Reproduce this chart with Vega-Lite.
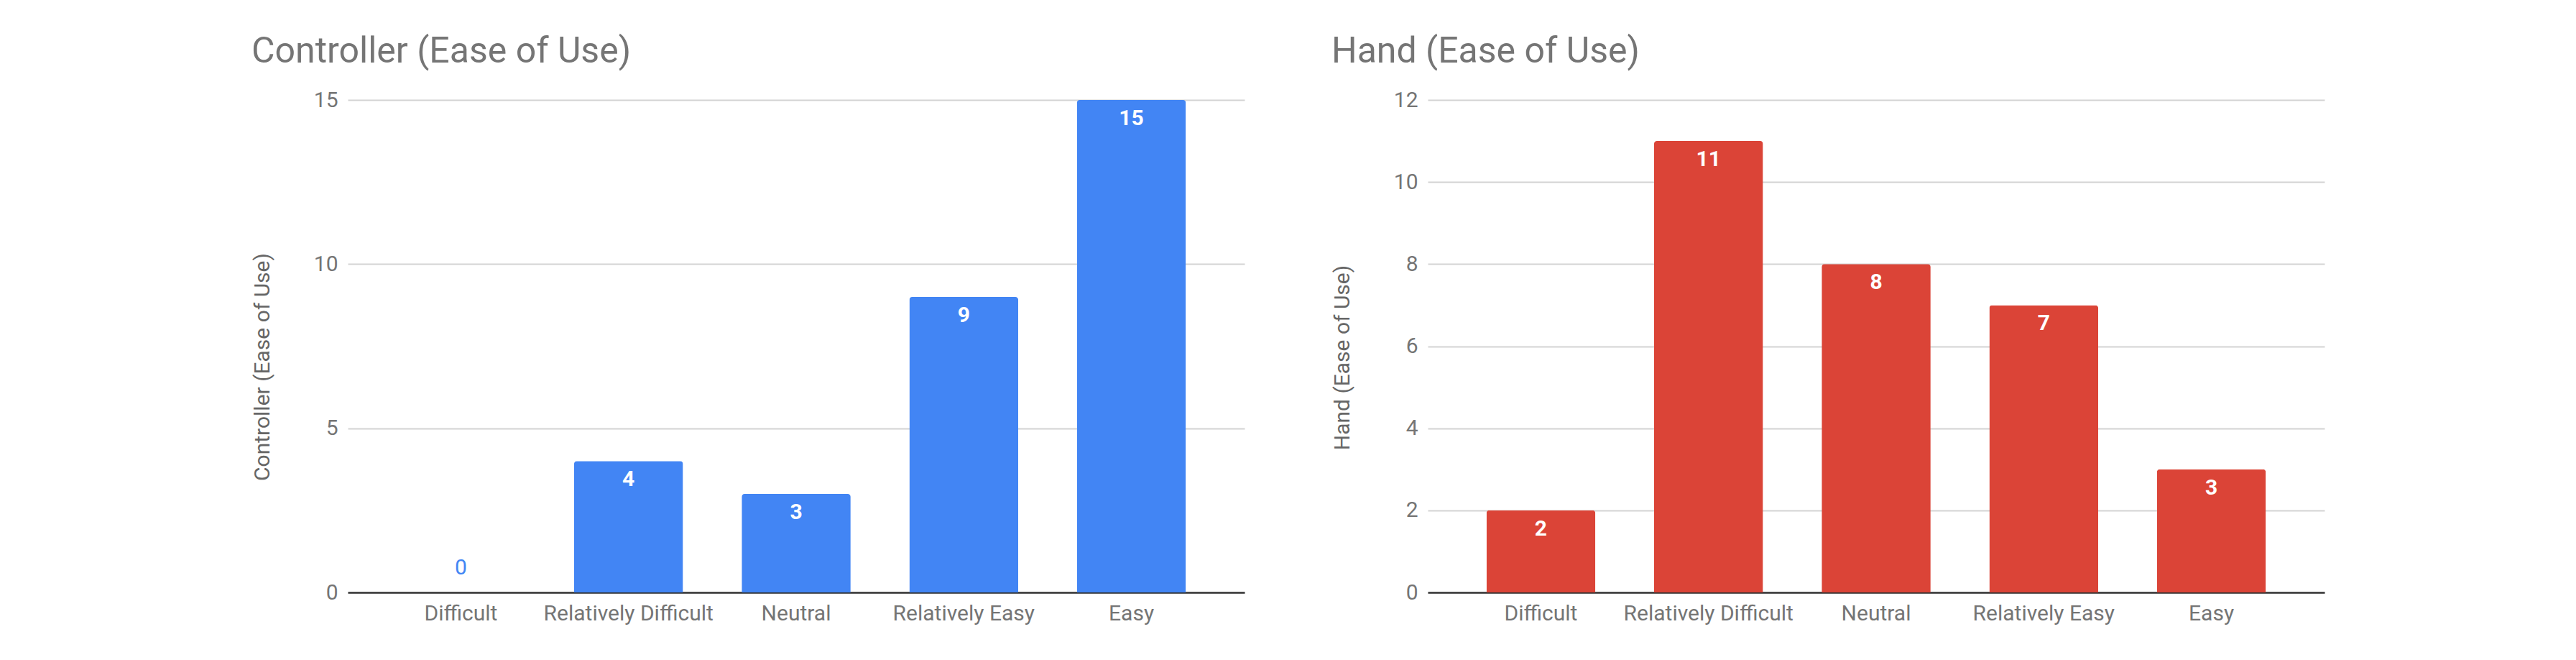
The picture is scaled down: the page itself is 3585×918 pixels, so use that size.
{
  "$schema": "https://vega.github.io/schema/vega-lite/v6.json",
  "padding": {"left": 350, "top": 47, "right": 5, "bottom": 5},
  "background": "white",
  "spacing": 121,
  "config": {
    "font": "Roboto",
    "view": {"stroke": null},
    "axis": {"labelFont": "Roboto", "titleFont": "Roboto", "labelColor": "#757575", "titleColor": "#666666"},
    "title": {"font": "Roboto", "fontSize": 50, "fontWeight": "normal", "color": "#757575", "anchor": "start", "frame": "bounds", "baseline": "alphabetic", "offset": 27}
  },
  "datasets": {
    "controller": [
      {"rating": "Difficult", "value": 0},
      {"rating": "Relatively Difficult", "value": 4},
      {"rating": "Neutral", "value": 3},
      {"rating": "Relatively Easy", "value": 9},
      {"rating": "Easy", "value": 15}
    ],
    "hand": [
      {"rating": "Difficult", "value": 2},
      {"rating": "Relatively Difficult", "value": 11},
      {"rating": "Neutral", "value": 8},
      {"rating": "Relatively Easy", "value": 7},
      {"rating": "Easy", "value": 3}
    ]
  },
  "hconcat": [
    {
      "title": "Controller (Ease of Use)",
      "width": 1248,
      "height": 685,
      "data": {"name": "controller"},
      "encoding": {
        "x": {
          "field": "rating", "type": "nominal", "sort": null, "title": null,
          "scale": {"paddingInner": 0.35, "paddingOuter": 0.35},
          "axis": {"labelAngle": 0, "labelFontSize": 30, "labelPadding": 14, "labelLimit": 0, "ticks": false, "domainColor": "#333333", "domainWidth": 2.5, "grid": false}
        },
        "y": {
          "field": "value", "type": "quantitative", "title": "Controller (Ease of Use)",
          "scale": {"domain": [0, 15], "nice": false},
          "axis": {"values": [0, 5, 10, 15], "labelFontSize": 30, "labelPadding": 14, "ticks": false, "domain": false, "gridColor": "#d3d3d3", "gridWidth": 2, "titleFontSize": 30, "titleFontWeight": "normal", "minExtent": 50, "maxExtent": 50, "titlePadding": 54, "titleY": 371}
        }
      },
      "layer": [
        {"mark": {"type": "bar", "color": "#4285f4", "cornerRadiusTopLeft": 4, "cornerRadiusTopRight": 4}},
        {
          "transform": [{"filter": "datum.value > 0"}],
          "mark": {"type": "text", "color": "white", "fontSize": 30, "fontWeight": "bold", "baseline": "alphabetic", "dy": 35},
          "encoding": {"text": {"field": "value", "type": "quantitative"}}
        },
        {
          "transform": [{"filter": "datum.value == 0"}],
          "mark": {"type": "text", "color": "#4285f4", "fontSize": 30, "baseline": "alphabetic", "dy": -25},
          "encoding": {"text": {"field": "value", "type": "quantitative"}}
        }
      ]
    },
    {
      "title": "Hand (Ease of Use)",
      "width": 1248,
      "height": 685,
      "data": {"name": "hand"},
      "encoding": {
        "x": {
          "field": "rating", "type": "nominal", "sort": null, "title": null,
          "scale": {"paddingInner": 0.35, "paddingOuter": 0.35},
          "axis": {"labelAngle": 0, "labelFontSize": 30, "labelPadding": 14, "labelLimit": 0, "ticks": false, "domainColor": "#333333", "domainWidth": 2.5, "grid": false}
        },
        "y": {
          "field": "value", "type": "quantitative", "title": "Hand (Ease of Use)",
          "scale": {"domain": [0, 12], "nice": false},
          "axis": {"values": [0, 2, 4, 6, 8, 10, 12], "labelFontSize": 30, "labelPadding": 14, "ticks": false, "domain": false, "gridColor": "#d3d3d3", "gridWidth": 2, "titleFontSize": 30, "titleFontWeight": "normal", "minExtent": 50, "maxExtent": 50, "titlePadding": 54, "titleY": 358}
        }
      },
      "layer": [
        {"mark": {"type": "bar", "color": "#db4437", "cornerRadiusTopLeft": 4, "cornerRadiusTopRight": 4}},
        {
          "transform": [{"filter": "datum.value > 0"}],
          "mark": {"type": "text", "color": "white", "fontSize": 30, "fontWeight": "bold", "baseline": "alphabetic", "dy": 35},
          "encoding": {"text": {"field": "value", "type": "quantitative"}}
        },
        {
          "transform": [{"filter": "datum.value == 0"}],
          "mark": {"type": "text", "color": "#db4437", "fontSize": 30, "baseline": "alphabetic", "dy": -25},
          "encoding": {"text": {"field": "value", "type": "quantitative"}}
        }
      ]
    }
  ]
}
